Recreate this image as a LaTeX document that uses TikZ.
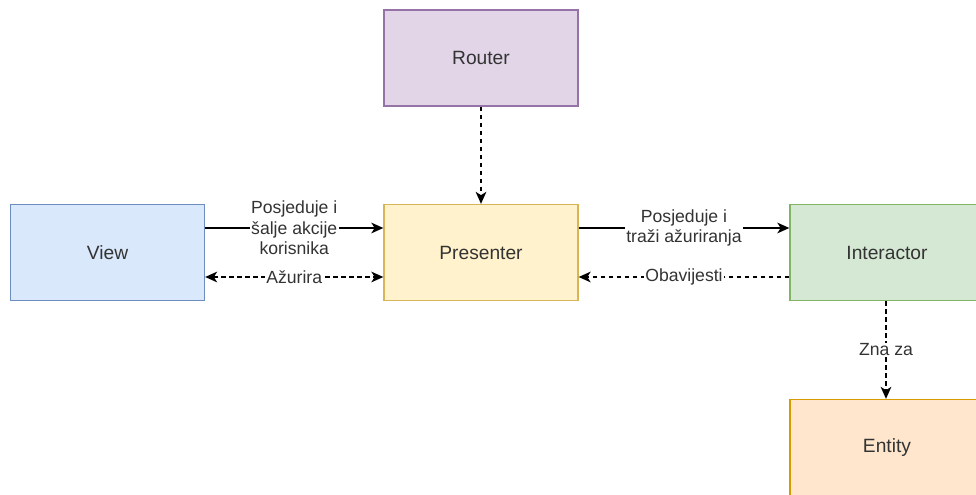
\documentclass[tikz,border=0pt]{standalone}
\usepackage{fontspec}
\setmainfont{Liberation Sans}
\usetikzlibrary{arrows.meta}
\definecolor{routerfill}{HTML}{E1D5E7}\definecolor{routerline}{HTML}{9673A6}
\definecolor{viewfill}{HTML}{DAE8FC}\definecolor{viewline}{HTML}{6C8EBF}
\definecolor{presfill}{HTML}{FFF2CC}\definecolor{presline}{HTML}{D6B656}
\definecolor{interfill}{HTML}{D5E8D4}\definecolor{interline}{HTML}{82B366}
\definecolor{entfill}{HTML}{FFE6CC}\definecolor{entline}{HTML}{D79B00}
\definecolor{txt}{HTML}{333333}
\tikzset{
  box/.style={draw, line width=1pt, minimum width=145.5pt, minimum height=72pt, inner sep=0pt,
    font=\fontsize{14.4}{17}\selectfont, text=txt},
  conn/.style={line width=1.1pt, -{Stealth[length=9pt,width=8pt,inset=2.5pt]}},
  dconn/.style={conn, dash pattern=on 3.5pt off 2.5pt},
  lbl/.style={fill=white, inner sep=1pt, font=\fontsize{13.2}{15.4}\selectfont, text=txt, align=center}
}
\begin{document}
\begin{tikzpicture}[x=0.75pt,y=-0.75pt]
\clip (0,0) rectangle (976,495);
\fill[white] (0,0) rectangle (976,495);
\node[box, fill=routerfill, draw=routerline] (router) at (481,58) {Router};
\node[box, fill=viewfill, draw=viewline] (view) at (107.5,252.5) {View};
\node[box, fill=presfill, draw=presline] (pres) at (481,252.5) {Presenter};
\node[box, fill=interfill, draw=interline] (inter) at (887,252.5) {Interactor};
\node[box, fill=entfill, draw=entline] (ent) at (887,447.5) {Entity};
% View -> Presenter
\draw[conn] (view.east |- 0,228) -- node[lbl] {Posjeduje i\\šalje akcije\\korisnika} (pres.west |- 0,228);
\draw[dconn, {Stealth[length=9pt,width=8pt,inset=2.5pt]}-{Stealth[length=9pt,width=8pt,inset=2.5pt]}] (view.east |- 0,277) -- node[lbl] {Ažurira} (pres.west |- 0,277);
% Presenter -> Interactor
\draw[conn] (pres.east |- 0,228) -- node[lbl] {Posjeduje i\\traži ažuriranja} (inter.west |- 0,228);
\draw[dconn] (inter.west |- 0,277) -- node[lbl] {Obavijesti} (pres.east |- 0,277);
% Router -> Presenter
\draw[dconn] (router.south) -- (pres.north);
% Interactor -> Entity
\draw[dconn] (inter.south -| 886,0) -- node[lbl, pos=0.5] {Zna za} (ent.north -| 886,0);
\end{tikzpicture}
\end{document}
